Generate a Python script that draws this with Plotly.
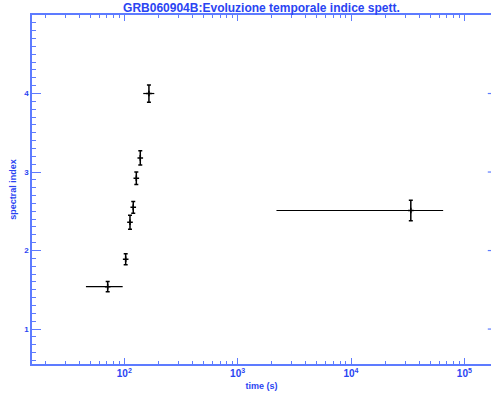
import plotly.graph_objects as go

# Spectral index evolution of GRB060904B
time_s = [71.4, 102.9, 112.3, 120.0, 127.7, 138.4, 165.0, 33700.0]
time_err_minus = [25.5, 0, 0, 0, 0, 0, 18.0, 31500.0]
time_err_plus = [25.4, 0, 0, 0, 0, 0, 19.0, 31300.0]
spectral_index = [1.54, 1.89, 2.36, 2.55, 2.92, 3.18, 4.00, 2.51]
index_err = [0.065, 0.07, 0.09, 0.075, 0.08, 0.09, 0.11, 0.13]

y_ticks = [1, 2, 3, 4]

TEXT_BLUE = "#2a44f2"
AXIS_BLUE = "#5d7bff"
FONT = "Liberation Sans"

fig = go.Figure()
fig.add_trace(go.Scatter(
    x=time_s, y=spectral_index, mode="markers",
    marker=dict(symbol="cross-thin", size=4, color="black",
                line=dict(width=1.5, color="black")),
    error_y=dict(type="data", array=index_err, visible=True,
                 color="black", thickness=1.5, width=2),
    error_x=dict(type="data", symmetric=False, array=time_err_plus,
                 arrayminus=time_err_minus, visible=True,
                 color="black", thickness=1.2, width=0),
    showlegend=False,
))

fig.update_layout(
    width=491, height=395,
    margin=dict(l=32, r=0, t=15, b=31),
    paper_bgcolor="white", plot_bgcolor="white",
    font=dict(family=FONT, color=TEXT_BLUE, size=8, weight="bold"),
    title=dict(text="GRB060904B:Evoluzione temporale indice spett.",
               x=0.5325, xanchor="center", y=0.992, yanchor="top",
               font=dict(family=FONT, size=12, color=TEXT_BLUE, weight="bold")),
    xaxis=dict(
        type="log", range=[1.186, 5.235], dtick=1,
        exponentformat="power", showgrid=False, zeroline=False,
        showline=True, linecolor=AXIS_BLUE, linewidth=1.5, mirror="ticks",
        ticks="inside", ticklen=6, tickwidth=1.2, tickcolor=AXIS_BLUE,
        tickfont=dict(size=8, color=TEXT_BLUE, family=FONT, weight="bold"),
        minor=dict(ticks="inside", ticklen=3, tickwidth=1, tickcolor=AXIS_BLUE,
                   dtick="D1", showgrid=False),
        title=dict(text="time (s)", standoff=4,
                   font=dict(size=9, color=TEXT_BLUE, family=FONT, weight="bold")),
    ),
    yaxis=dict(
        range=[0.555, 5.0], tickvals=y_ticks, showgrid=False, zeroline=False,
        showline=True, linecolor=AXIS_BLUE, linewidth=1.5, mirror=False,
        ticks="inside", ticklen=9, tickwidth=1.2, tickcolor=AXIS_BLUE,
        tickfont=dict(size=8, color=TEXT_BLUE, family=FONT, weight="bold"),
        minor=dict(ticks="inside", ticklen=4, tickwidth=1, tickcolor=AXIS_BLUE,
                   dtick=0.1, tick0=0, showgrid=False),
        title=dict(text="spectral index", standoff=6,
                   font=dict(size=9, color=TEXT_BLUE, family=FONT, weight="bold")),
    ),
)

# short major ticks along the right-hand edge
for v in y_ticks:
    fig.add_shape(type="line", xref="paper", yref="y",
                  x0=0.993, x1=1.0, y0=v, y1=v,
                  line=dict(color=AXIS_BLUE, width=1.2))

fig.write_html("out.html")
